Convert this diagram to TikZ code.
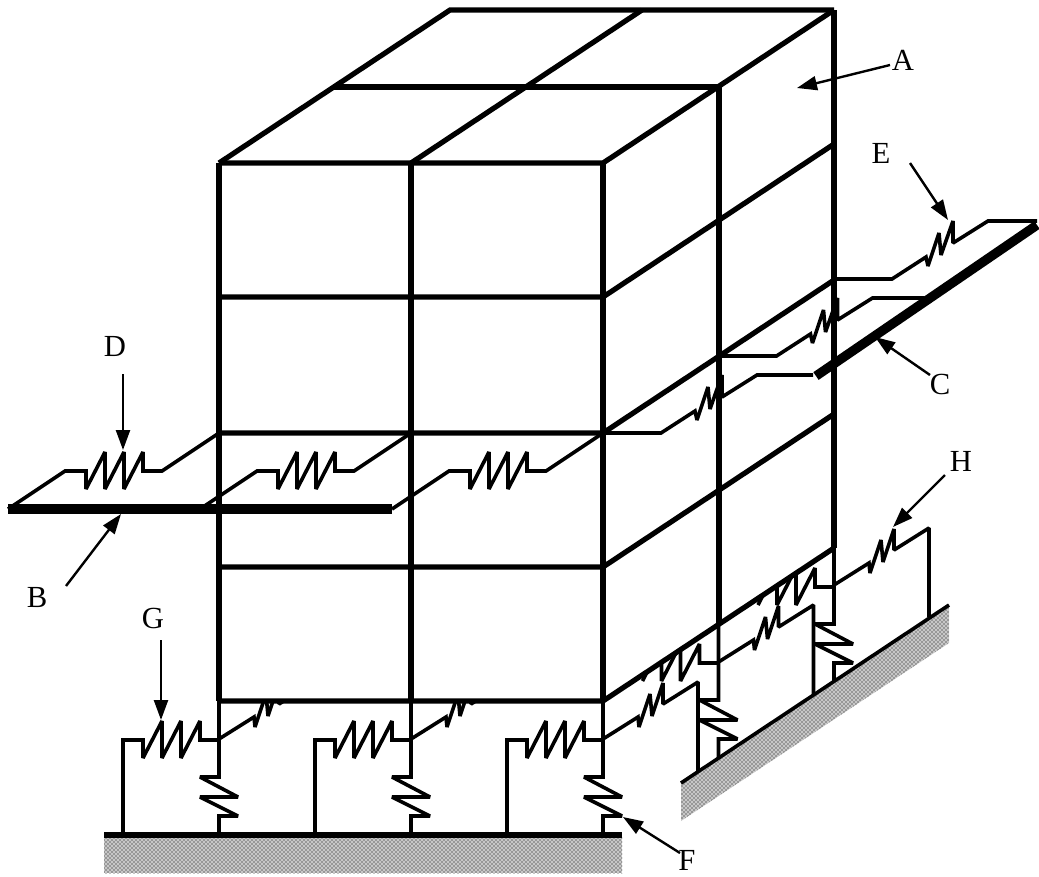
\documentclass[tikz,border=0pt]{standalone}
\usepackage{fontspec}
\setmainfont{Liberation Serif}
\usetikzlibrary{arrows.meta,patterns}
\tikzset{
	frameline/.style={line width=3.9pt},
	springline/.style={line width=2.7pt,miter limit=2},
	barline/.style={line width=7pt},
	arrowline/.style={line width=1.8pt,-{Triangle[length=15pt,width=10.5pt]}},
	groundfill/.style={draw=none,preaction={fill=black!22},pattern=crosshatch dots,pattern color=black}
}
\begin{document}
\begin{tikzpicture}[x=0.75pt,y=-0.75pt,font=\fontsize{23}{25}\selectfont]
	\useasboundingbox (0,0) rectangle (1039,876);
	\def\baseteeth{(143,758)--(162,721)--(162,758)--(181,721)--(181,758)--(200,721)--(200,740)--(219,740)}
	% ground
	\fill[groundfill] (104,835) rectangle (622,873);
	\fill[groundfill] (681,783) -- (949,605) -- (949,643) -- (681,821) -- cycle;
	\draw[frameline] (104,835) -- (622,835);
	\draw[springline] (681,783) -- (949,605);
	% parts behind the lowest beam
	\begin{scope}
		\clip (0,702) -- (603,702) -- (834,549) -- (1039,549) -- (1039,876) -- (0,876) -- cycle;
		\foreach \s in {0,192}
			\draw[springline,shift={(\s,0)}] (219,739) -- (254,717) -- (255,727) -- (266,694) -- (268,716) -- (279,683) -- (279,704) -- (314,682);
		\draw[springline,shift={(499.5,-77)}] \baseteeth;
		\draw[springline,shift={(615,-153)}] \baseteeth;
	\end{scope}
	% base springs
	\foreach \s in {0,192,384} {
		\draw[springline,shift={(\s,0)}] (123,835) -- (123,740) -- (143,740) -- \baseteeth;
		\draw[springline,shift={(\s,0)}] (219,701) -- (219,777) -- (200,777) -- (238,797) -- (200,797) -- (238,816) -- (219,816) -- (219,835);
	}
	\foreach \u/\v in {499.5/-77,615/-153}
		\draw[springline,shift={(\u,\v)}] (219,701) -- (219,777) -- (200,777) -- (238,797) -- (200,797) -- (238,816) -- (219,816) -- (219,835);
	\foreach \u/\v in {0/0,115.5/-77,231/-154}
		\draw[springline,shift={(\u,\v)}] (603,739) -- (638,717) -- (639,727) -- (650,694) -- (652,716) -- (663,683) -- (663,704) -- (698,682) -- (698,771);
	% frame
	\foreach \y in {163,297,433,567,701}
		\draw[frameline] (219,\y) -- (603,\y) -- (834,\y-153);
	\foreach \x in {219,411,603}
		\draw[frameline] (\x,163) -- (\x,701);
	\draw[frameline] (719,87) -- (719,624);
	\draw[frameline] (834,10) -- (834,548);
	\draw[frameline] (219,163) -- (450,10) -- (834,10);
	\draw[frameline] (411,163) -- (642,10);
	\draw[frameline] (334,87) -- (719,87);
	% floor springs and bars
	\foreach \s in {-384,-192,0}
		\draw[springline,shift={(\s,0)}] (603,433) -- (546,471) -- (527,471) -- (527,452) -- (508,489) -- (508,452) -- (489,489) -- (489,452) -- (470,489) -- (470,471) -- (449,471) -- (392,509);
	\foreach \u/\v/\e in {0/0/210,115.5/-77/206,231/-154/203}
		\draw[springline,shift={(\u,\v)}] (603,433) -- (661,433) -- (695,411) -- (697,420) -- (708,387) -- (710,409) -- (722,375) -- (722,397) -- (757,375) -- (603+\e,375);
	\draw[barline] (8,509) -- (392,509);
	\draw[barline] (816,376) -- (1037,225);
	% labels
	\foreach \n/\lx/\ly/\sx/\sy/\tx/\ty in {A/903/60/-13/5/797/88,B/37/597/29/-11/121/514,C/940/384/-10/-9/875/337,D/115/346/8/28/123/450,E/881/153/29/10/948/220,F/687/860/-7/-7/623/817,G/153/618/8/22/161/720,H/961/461/-16/14/893/527} {
		\node[inner sep=0pt] (lbl\n) at (\lx,\ly) {\n};
		\coordinate (tip\n) at (\tx,\ty);
		\draw[arrowline] (lbl\n) ++(\sx,\sy) -- (tip\n);
	}
\end{tikzpicture}
\end{document}
